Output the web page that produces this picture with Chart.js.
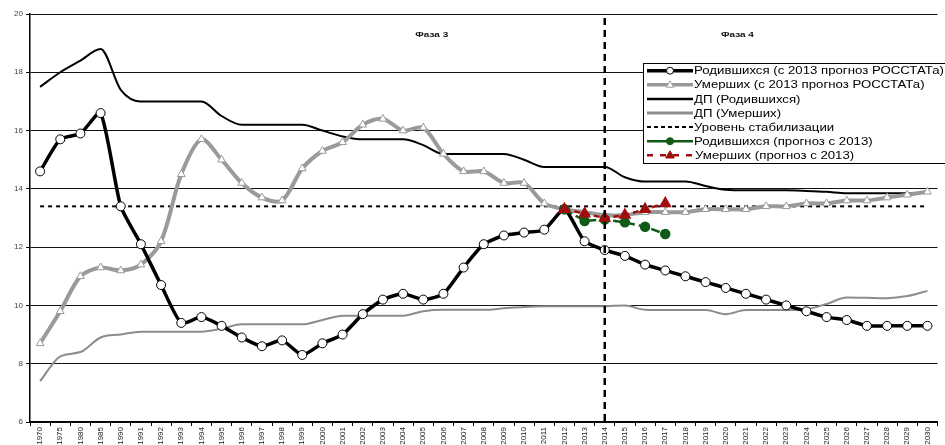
<!DOCTYPE html>
<html><head><meta charset="utf-8">
<script src="https://cdn.jsdelivr.net/npm/chart.js@4/dist/chart.umd.min.js"></script>
<style>html,body{margin:0;padding:0;background:#fff;}canvas{display:block;}</style>
</head><body>
<canvas id="c" width="945" height="445"></canvas>
<script>
const categories = ['1970','1975','1980','1985','1990','1991','1992','1993','1994','1995','1996','1997','1998','1999','2000','2001','2002','2003','2004','2005','2006','2007','2008','2009','2010','2011','2012','2013','2014','2015','2016','2017','2018','2019','2020','2021','2022','2023','2024','2025','2026','2027','2028','2029','2030'];

const births = [14.6,15.7,15.9,16.6,13.4,12.1,10.7,9.4,9.6,9.3,8.9,8.6,8.8,8.3,8.7,9.0,9.7,10.2,10.4,10.2,10.4,11.3,12.1,12.4,12.5,12.6,13.3,12.2,11.9,11.7,11.4,11.2,11.0,10.8,10.6,10.4,10.2,10.0,9.8,9.6,9.5,9.3,9.3,9.3,9.3];

const deaths = [8.7,9.8,11.0,11.3,11.2,11.4,12.2,14.5,15.7,15.0,14.2,13.7,13.6,14.7,15.3,15.6,16.2,16.4,16.0,16.1,15.2,14.6,14.6,14.2,14.2,13.5,13.3,13.2,13.1,13.1,13.2,13.2,13.2,13.3,13.3,13.3,13.4,13.4,13.5,13.5,13.6,13.6,13.7,13.8,13.9];

const dpBirths = [17.5,18.0,18.4,18.8,17.4,17.0,17.0,17.0,17.0,16.5,16.2,16.2,16.2,16.2,16.0,15.8,15.7,15.7,15.7,15.5,15.2,15.2,15.2,15.2,15.0,14.75,14.75,14.75,14.75,14.4,14.25,14.25,14.25,14.1,13.97,13.95,13.95,13.95,13.93,13.9,13.85,13.85,13.85,13.85,13.87];

const dpDeaths = [7.4,8.25,8.4,8.9,9.0,9.1,9.1,9.1,9.1,9.2,9.35,9.35,9.35,9.35,9.5,9.65,9.65,9.65,9.65,9.8,9.85,9.85,9.85,9.9,9.95,9.97,9.97,9.97,9.97,10.0,9.85,9.84,9.84,9.84,9.7,9.84,9.84,9.84,9.87,10.05,10.27,10.26,10.25,10.32,10.5];

const stabilizationLevel = 13.4;
const stabilizationSpan = ['1970','2030'];

const forecastYears = ['2012','2013','2014','2015','2016','2017'];
const birthsForecast = [13.3,12.9,12.95,12.85,12.7,12.45];
const deathsForecast = [13.3,13.15,13.0,13.1,13.3,13.5];

const phaseBoundary = '2014';
const phaseLabels = ['Фаза 3','Фаза 4'];
const phaseLabelAt = [19.42, 34.58];   // category index position
const phaseLabelLevel = 19.28;

const yTicks = [6,8,10,12,14,16,18,20];

const legendLabels = [
  'Родившихся (с 2013 прогноз РОССТАТа)',
  'Умерших (с 2013 прогноз РОССТАТа)',
  'ДП (Родившихся)',
  'ДП (Умерших)',
  'Уровень стабилизации',
  'Родившихся (прогноз с 2013)',
  'Умерших (прогноз с 2013)'
];

const FONT = "'Liberation Sans', Arial, sans-serif";
const GRAY = '#9a9a9a';
const DPGRAY = '#8c8c8c';
const GREEN = '#0f5a17';
const RED = '#a00d0d';

const pair = (xs, ys) => xs.map((x, i) => ({x, y: ys[i]}));

const overlay = {
  id: 'overlay',
  afterDatasetsDraw(chart) {
    const ctx = chart.ctx, xs = chart.scales.x, ys = chart.scales.y;
    const px = xs.getPixelForValue(categories.indexOf(phaseBoundary));
    ctx.save();
    ctx.strokeStyle = '#000';
    ctx.lineWidth = 2.5;
    ctx.setLineDash([7,5]);
    ctx.beginPath();
    ctx.moveTo(px, chart.chartArea.top + 4);
    ctx.lineTo(px, chart.chartArea.bottom);
    ctx.stroke();
    ctx.setLineDash([]);
    ctx.fillStyle = '#111';
    ctx.font = 'bold 8px ' + FONT;
    ctx.textAlign = 'center';
    ctx.textBaseline = 'middle';
    phaseLabels.forEach((t, i) => {
      const x = xs.getPixelForValue(phaseLabelAt[i]);
      const y = ys.getPixelForValue(phaseLabelLevel);
      ctx.save();
      ctx.translate(x, y);
      ctx.scale(1.25, 1);
      ctx.fillText(t, 0, 0);
      ctx.restore();
    });
    ctx.restore();
  },
  afterDraw(chart) {
    const ctx = chart.ctx;
    const bx = 643.5, by = 63.5, bw = 320, bh = 100;
    ctx.save();
    ctx.fillStyle = '#fff';
    ctx.fillRect(bx, by, bw, bh);
    ctx.strokeStyle = '#000';
    ctx.lineWidth = 1;
    ctx.strokeRect(bx, by, bw, bh);
    const x0 = 647, x1 = 693, xm = 670, tx = 694;
    const rowY = i => 70.7 + i * 14.1;
    const line = (y, color, w, dash) => {
      ctx.save();
      ctx.strokeStyle = color; ctx.lineWidth = w; ctx.setLineDash(dash || []);
      ctx.beginPath(); ctx.moveTo(x0, y); ctx.lineTo(x1, y); ctx.stroke();
      ctx.restore();
    };
    const circle = (y, fill, stroke, r) => {
      ctx.beginPath(); ctx.arc(xm, y, r, 0, Math.PI*2);
      ctx.fillStyle = fill; ctx.fill();
      ctx.lineWidth = 1; ctx.strokeStyle = stroke; ctx.stroke();
    };
    const tri = (y, fill, stroke, r) => {
      ctx.beginPath();
      ctx.moveTo(xm, y - r); ctx.lineTo(xm + r*0.95, y + r*0.6); ctx.lineTo(xm - r*0.95, y + r*0.6); ctx.closePath();
      ctx.fillStyle = fill; ctx.fill();
      ctx.lineWidth = 1; ctx.strokeStyle = stroke; ctx.stroke();
    };
    line(rowY(0), '#000', 3.5); circle(rowY(0), '#fff', '#000', 3.5);
    line(rowY(1), GRAY, 3.5); tri(rowY(1), '#fff', GRAY, 4);
    line(rowY(2), '#000', 2.5);
    line(rowY(3), DPGRAY, 3);
    line(rowY(4), '#000', 2, [4,3]);
    line(rowY(5), GREEN, 2.5); circle(rowY(5), GREEN, GREEN, 3.5);
    line(rowY(6), RED, 2.5, [6,7]); tri(rowY(6), RED, RED, 4.5);
    ctx.fillStyle = '#000';
    ctx.font = '11.5px ' + FONT;
    ctx.textBaseline = 'middle';
    ctx.textAlign = 'left';
    const w0 = ctx.measureText(legendLabels[0]).width;
    const sx = 250 / w0;
    legendLabels.forEach((t, i) => {
      ctx.save();
      ctx.translate(tx + (i === 6 ? 1 : 0), rowY(i) + 0.5);
      ctx.scale(sx, 1);
      ctx.fillText(t, 0, 0);
      ctx.restore();
    });
    ctx.restore();
  }
};

new Chart(document.getElementById('c'), {
  type: 'line',
  data: {
    labels: categories,
    datasets: [
      { label: legendLabels[0], data: births, borderColor: '#000', borderWidth: 3.5, tension: 0.2,
        pointStyle: 'circle', pointRadius: 4.5, pointBackgroundColor: '#fff', pointBorderColor: '#000', pointBorderWidth: 1, order: 2 },
      { label: legendLabels[1], data: deaths, borderColor: GRAY, borderWidth: 4, tension: 0.3,
        pointStyle: 'triangle', pointRadius: 4.5, pointBackgroundColor: '#fff', pointBorderColor: GRAY, pointBorderWidth: 1, order: 3 },
      { label: legendLabels[2], data: dpBirths, borderColor: '#000', borderWidth: 2, cubicInterpolationMode: 'monotone',
        pointRadius: 0, order: 4 },
      { label: legendLabels[3], data: dpDeaths, borderColor: DPGRAY, borderWidth: 2, cubicInterpolationMode: 'monotone',
        pointRadius: 0, order: 5 },
      { label: legendLabels[4], data: stabilizationSpan.map(x => ({x, y: stabilizationLevel})), borderColor: '#000', borderWidth: 2,
        borderDash: [4,4], pointRadius: 0, order: 6 },
      { label: legendLabels[5], data: pair(forecastYears, birthsForecast), borderColor: GREEN, borderWidth: 2.5,
        borderDash: [9,4], pointStyle: 'circle', pointRadius: 4, pointBackgroundColor: GREEN, pointBorderColor: GREEN, order: 1 },
      { label: legendLabels[6], data: pair(forecastYears, deathsForecast), borderColor: RED, borderWidth: 2.5,
        borderDash: [6,4], pointStyle: 'triangle', pointRadius: 5, pointBackgroundColor: RED, pointBorderColor: RED, order: 0 }
    ]
  },
  options: {
    responsive: false,
    animation: false,
    devicePixelRatio: 1,
    layout: { padding: { top: 14, right: 7, left: 0, bottom: 0 } },
    plugins: { legend: { display: false }, tooltip: { enabled: false }, title: { display: false } },
    scales: {
      x: {
        type: 'category',
        offset: true,
        grid: { display: true, drawOnChartArea: false, drawTicks: true, tickLength: 4, tickColor: '#000', offset: true },
        border: { display: true, color: '#000', width: 1.5 },
        ticks: { autoSkip: false, maxRotation: 90, minRotation: 90, font: { family: FONT, size: 8 }, color: '#222', padding: 1 },
        afterFit: s => { s.height = 23; }
      },
      y: {
        min: 6, max: 20,
        afterBuildTicks: s => { s.ticks = yTicks.map(v => ({ value: v })); },
        grid: { color: '#111', lineWidth: 1, drawTicks: true, tickLength: 4, tickColor: '#000' },
        border: { display: true, color: '#000', width: 1.5 },
        ticks: { font: { family: FONT, size: 8 }, color: '#444', padding: 3 },
        afterFit: s => { s.width = 30; }
      }
    }
  },
  plugins: [overlay]
});
</script>
</body></html>
